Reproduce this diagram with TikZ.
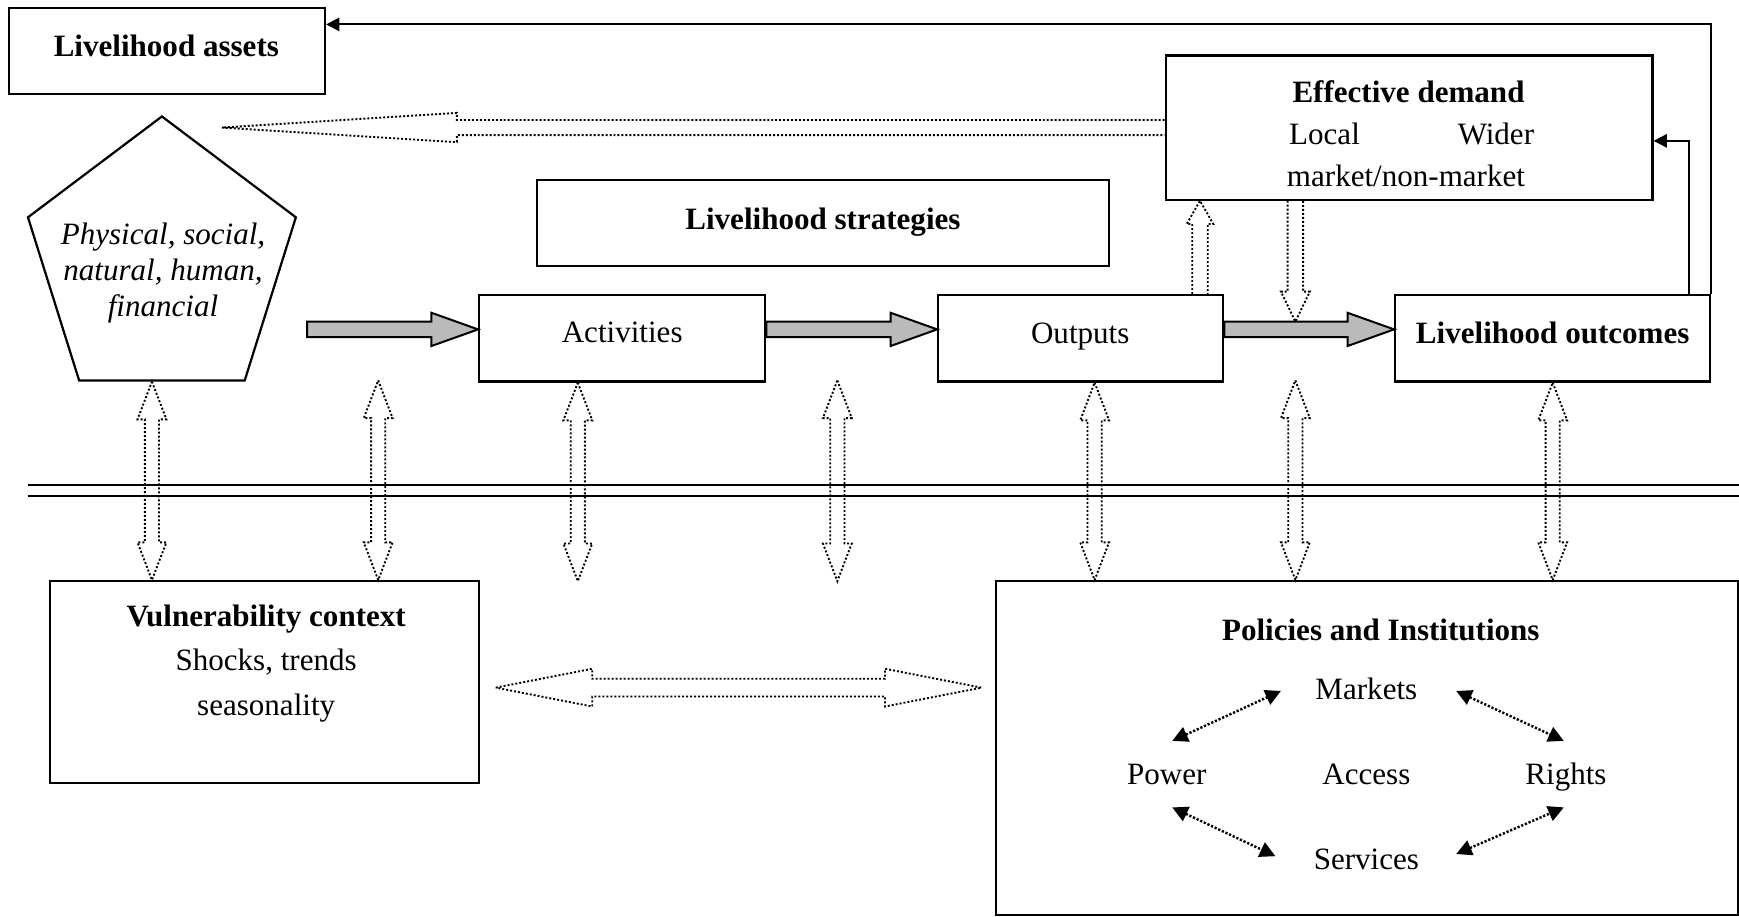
\documentclass[tikz,border=0pt]{standalone}
\usepackage{fontspec}
\setmainfont{Liberation Serif}
\usetikzlibrary{calc,shapes.geometric,arrows.meta}
\tikzset{
 box/.style={draw, line width=1pt, rectangle, inner sep=0pt},
 hol/.style={draw, line width=0.85pt, dash pattern=on 0.9pt off 0.9pt, line join=miter},
 grarr/.style={draw, line width=0.9pt, fill=black!27, line join=miter},
 fb/.style={line width=0.9pt, -{Triangle[length=6pt,width=6pt]}},
 pia/.style={line width=1.1pt, dash pattern=on 1pt off 0.8pt, {Triangle[length=7pt,width=7pt]}-{Triangle[length=7pt,width=7pt]}},
 txt/.style={inner sep=0pt, font=\fontsize{14}{17}\selectfont},
 bt/.style={txt, font=\fontsize{14}{17}\selectfont\bfseries},
}
% double vertical hollow arrow: #1 top tip, #2 bottom tip
\newcommand\vdarrow[2]{\draw[hol] let \p1=(#1), \p2=(#2) in
  (\x1,\y1) -- (\x1+6.5pt,\y1-17pt) -- (\x1+3.2pt,\y1-17pt) -- (\x1+3.2pt,\y2+17pt) -- (\x1+6.5pt,\y2+17pt) -- (\x1,\y2)
  -- (\x1-6.5pt,\y2+17pt) -- (\x1-3.2pt,\y2+17pt) -- (\x1-3.2pt,\y1-17pt) -- (\x1-6.5pt,\y1-17pt) -- cycle;}
% single up arrow: #1 tip (top), #2 base (bottom)
\newcommand\vuarrow[2]{\draw[hol] let \p1=(#1), \p2=(#2) in
  (\x1-3.5pt,\y2) -- (\x1-3.5pt,\y1-10.5pt) -- (\x1-6pt,\y1-10.5pt) -- (\x1,\y1) -- (\x1+6pt,\y1-10.5pt) -- (\x1+3.5pt,\y1-10.5pt) -- (\x1+3.5pt,\y2);}
% single down arrow: #1 base (top), #2 tip (bottom)
\newcommand\vdnarrow[2]{\draw[hol] let \p1=(#1), \p2=(#2) in
  (\x1-3.5pt,\y1) -- (\x1-3.5pt,\y2+13.5pt) -- (\x1-6.5pt,\y2+13.5pt) -- (\x1,\y2) -- (\x1+6.5pt,\y2+13.5pt) -- (\x1+3.5pt,\y2+13.5pt) -- (\x1+3.5pt,\y1);}
% grey solid arrow: #1 start, #2 tip
\newcommand\grarrow[2]{\draw[grarr] let \p1=(#1), \p2=(#2) in
  (\x1,\y1+3.5pt) -- (\x2-21pt,\y1+3.5pt) -- (\x2-21pt,\y1+7.5pt) -- (\x2,\y1) -- (\x2-21pt,\y1-7.5pt) -- (\x2-21pt,\y1-3.5pt) -- (\x1,\y1-3.5pt) -- cycle;}
\begin{document}
\begin{tikzpicture}[x=0.5pt,y=-0.5pt]
\useasboundingbox (0,0) rectangle (1568,826);
\begin{scope}
\clip (0,0) rectangle (1568,826);
% boxes
\node[box, minimum width=142.5pt, minimum height=39pt] (la) at (150.5,46) {};
\node[draw, line width=1pt, regular polygon, regular polygon sides=5, minimum size=131.6pt, inner sep=0pt, xscale=0.965] (pent) at (146,236.6) {};
\node[box, minimum width=219.5pt, minimum height=65pt] (eff) at (1270.5,115) {};
\node[box, minimum width=258pt, minimum height=39pt] (strat) at (742,201) {};
\node[box, minimum width=129pt, minimum height=39pt] (act) at (561,305) {};
\node[box, minimum width=128.5pt, minimum height=39pt] (outp) at (974.5,305) {};
\node[box, minimum width=142pt, minimum height=39pt] (out) at (1400,305) {};
\node[box, minimum width=193.5pt, minimum height=91pt] (vul) at (238.5,615) {};
\node[box, minimum width=334.5pt, minimum height=150.5pt] (pol) at (1232.5,674.5) {};
% texts
\node[bt] (latxt) at (150,41) {Livelihood assets};
\node[txt, align=center, font=\fontsize{14}{16.25}\selectfont\itshape] (penttxt) at (147,246) {Physical, social,\\natural, human,\\financial};
\node[bt] (efftxt) at (1270,83) {Effective demand};
\node[txt, anchor=west] (local) at (1162,121) {Local};
\node[txt, anchor=west] (wider) at (1314,121) {Wider};
\node[txt, anchor=west] (mkt) at (1160,159) {market/non-market};
\node[bt] (strattxt) at (742,200) {Livelihood strategies};
\node[txt] (acttxt) at (561,300) {Activities};
\node[txt] (outptxt) at (974,303) {Outputs};
\node[bt] (outtxt) at (1400,300) {Livelihood outcomes};
\node[txt, align=center, font=\fontsize{14}{20}\selectfont] (vultxt) at (240,598) {\textbf{Vulnerability context}\\Shocks, trends\\seasonality};
\node[bt] (poltxt) at (1245,568) {Policies and Institutions};
\node[txt] (mk) at (1232,621) {Markets};
\node[txt] (pw) at (1052,698) {Power};
\node[txt] (ac) at (1232,698) {Access};
\node[txt] (rt) at (1412,701) {Rights};
\node[txt] (sv) at (1232,775) {Services};
% feedback lines
\coordinate (fbtop) at (0,22);
\coordinate (fbin) at (1523,127);
\draw[fb] (out.north east) -- (out.north east |- fbtop) -- (la.east |- fbtop);
\draw[fb] (out.north -| fbin) -- (fbin) -- (eff.east |- fbin);
% double line
\draw[line width=1pt] (25,437) -- (1568,437) (25,447) -- (1568,447);
% grey arrows
\coordinate (gstart) at (277,297);
\grarrow{gstart}{$(act.west)+(0,-8)$}
\grarrow{$(act.east)+(0,-8)$}{$(outp.west)+(0,-8)$}
\grarrow{$(outp.east)+(0,-8)$}{$(out.west)+(0,-8)$}
% long dotted arrow to assets
\coordinate (ltip) at (200,115);
\draw[hol] let \p1=(eff.west), \p2=(ltip) in
  (\x1,\y1+3.4pt) -- (\x2+106pt,\y1+3.4pt) -- (\x2+106pt,\y1+6.6pt) -- (\x2,\y1) -- (\x2+106pt,\y1-6.6pt) -- (\x2+106pt,\y1-3.4pt) -- (\x1,\y1-3.4pt);
% arrows between outputs and effective demand
\vuarrow{$(eff.south)+(-188.5,0)$}{$(outp.north)+(107.5,0)$}
\coordinate (dtip) at (1168,290);
\vdnarrow{$(eff.south)+(-102.5,0)$}{dtip}
% vertical double arrows
\coordinate (t2) at (341,343);
\coordinate (b3) at (521,524);
\coordinate (t4) at (755,343);
\coordinate (b4) at (755,524);
\coordinate (t6) at (1168,343);
\vdarrow{$(pent.south)+(-9,0)$}{$(vul.north west)+(92,0)$}
\vdarrow{t2}{$(vul.north west)+(296,0)$}
\vdarrow{$(act.south)+(-40,0)$}{b3}
\vdarrow{t4}{b4}
\vdarrow{$(outp.south)+(12.5,0)$}{$(pol.north west)+(89,0)$}
\vdarrow{t6}{$(pol.north west)+(270,0)$}
\vdarrow{out.south}{$(pol.north west)+(502,0)$}
% horizontal double arrow
\coordinate (hl) at (447,620);
\coordinate (hr) at (885,620);
\draw[hol] let \p1=(hl), \p2=(hr) in
  (\x1,\y1) -- (\x1+43.5pt,\y1+8.5pt) -- (\x1+43.5pt,\y1+4pt) -- (\x2-43.5pt,\y1+4pt) -- (\x2-43.5pt,\y1+8.5pt) -- (\x2,\y1)
  -- (\x2-43.5pt,\y1-8.5pt) -- (\x2-43.5pt,\y1-4pt) -- (\x1+43.5pt,\y1-4pt) -- (\x1+43.5pt,\y1-8.5pt) -- cycle;
% policies inner arrows
\draw[pia] ($(pw)+(5,-30)$) -- ($(mk)+(-77,2)$);
\draw[pia] ($(mk)+(81,2)$) -- ($(rt)+(-2,-33)$);
\draw[pia] ($(pw)+(5,30)$) -- ($(sv)+(-82,-3)$);
\draw[pia] ($(sv)+(81,-5)$) -- ($(rt)+(-2,27)$);
\end{scope}
\end{tikzpicture}
\end{document}
